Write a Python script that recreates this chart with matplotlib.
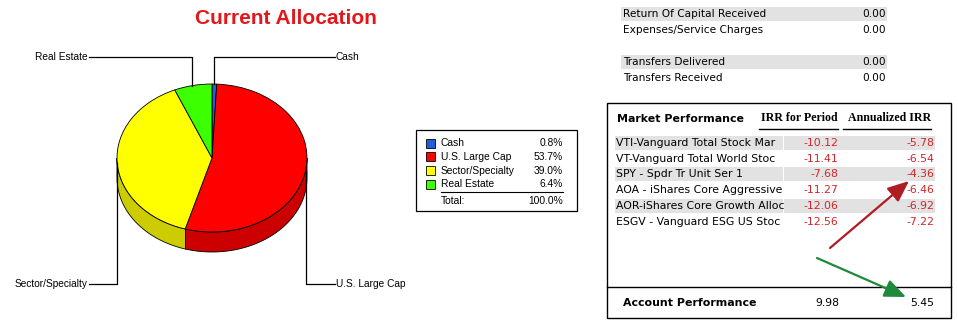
import numpy as np
import matplotlib
matplotlib.use("Agg")
import matplotlib.pyplot as plt
from matplotlib.patches import Rectangle, Polygon

# allocation data
categories = ["Cash", "U.S. Large Cap", "Sector/Specialty", "Real Estate"]
alloc_pct = [0.8, 53.7, 39.0, 6.4]
total_pct = 100.0
top_colors = ["#1f5fd8", "#ff0000", "#ffff00", "#3cff00"]
side_colors = ["#1848a8", "#cc0000", "#cccc00", "#30cc00"]

# cash-flow rows
flow_labels = ["Return Of Capital Received", "Expenses/Service Charges", "",
               "Transfers Delivered", "Transfers Received"]
flow_values = ["0.00", "0.00", "", "0.00", "0.00"]

# market performance table
fund_names = ["VTI-Vanguard Total Stock Mar", "VT-Vanguard Total World Stoc",
              "SPY - Spdr Tr Unit Ser 1", "AOA - iShares Core Aggressive",
              "AOR-iShares Core Growth Alloc", "ESGV - Vanguard ESG US Stoc"]
irr_period = [-10.12, -11.41, -7.68, -11.27, -12.06, -12.56]
irr_annual = [-5.78, -6.54, -4.36, -6.46, -6.92, -7.22]
account_irr_period = 9.98
account_irr_annual = 5.45

W, H = 958, 327
fig = plt.figure(figsize=(W / 100, H / 100), dpi=100)

# overlay axes in pixel coordinates
ax = fig.add_axes([0, 0, 1, 1])
ax.set_xlim(0, W)
ax.set_ylim(H, 0)
ax.axis("off")

# ---- 3D-looking pie ----
cx, cy, rx, ry, depth = 212, 158, 95, 74, 20
d = depth / ry
pax = fig.add_axes([(cx - 1.1 * rx) / W, 1 - (cy + 1.1 * ry + depth) / H,
                    2.2 * rx / W, (2.2 * ry + depth) / H])
pax.set_zorder(0)
ax.set_zorder(1)

edges = np.concatenate([[0], np.cumsum(alloc_pct)]) / 100 * 360  # clockwise from top
for i in range(len(alloc_pct)):
    lo, hi = max(edges[i], 90), min(edges[i + 1], 270)
    if hi <= lo:
        continue
    t = np.radians(np.linspace(lo, hi, 80))
    upper = np.column_stack([np.sin(t), np.cos(t)])
    lower = np.column_stack([np.sin(t), np.cos(t) - d])[::-1]
    pax.add_patch(Polygon(np.vstack([upper, lower]), closed=True,
                          facecolor=side_colors[i], edgecolor="black",
                          linewidth=0.6, zorder=0.5))

pax.pie(alloc_pct, colors=top_colors, startangle=90, counterclock=False,
        wedgeprops=dict(edgecolor="black", linewidth=0.6))
pax.set_aspect("auto")
pax.set_xlim(-1.1, 1.1)
pax.set_ylim(-(1.1 + d), 1.1)
pax.axis("off")

ax.text(286, 19, "Current Allocation", color="#e5161b", fontsize=15,
        fontweight="bold", family="Liberation Sans", ha="center", va="center")

# leader lines from slice middles
label_y = [57, 284, 284, 57]
for i, name in enumerate(categories):
    mid = np.radians((edges[i] + edges[i + 1]) / 2)
    px, py = cx + rx * np.sin(mid), cy - ry * np.cos(mid)
    right = np.sin(mid) > 0
    ex = 335 if right else 89
    ax.plot([px, px, ex], [py, label_y[i], label_y[i]], color="black", lw=0.9)
    ax.text(ex + (1 if right else -1), label_y[i], name, fontsize=7.3,
            family="Liberation Sans", ha="left" if right else "right", va="center")

# ---- legend box ----
ax.add_patch(Rectangle((416, 130), 161, 81, facecolor="white",
                       edgecolor="black", lw=0.9))
for i, name in enumerate(categories):
    y = 143 + i * 13.8
    ax.add_patch(Rectangle((426, y - 4.5), 9, 9, facecolor=top_colors[i],
                           edgecolor="black", lw=0.6))
    ax.text(441, y, name, fontsize=7.4, family="Liberation Sans", va="center")
    ax.text(563, y, f"{alloc_pct[i]:.1f}%", fontsize=7.4,
            family="Liberation Sans", va="center", ha="right")
ax.plot([441, 563], [192, 192], color="black", lw=0.8)
ax.text(441, 201, "Total:", fontsize=7.4, family="Liberation Sans", va="center")
ax.text(563, 201, f"{total_pct:.1f}%", fontsize=7.4,
        family="Liberation Sans", va="center", ha="right")

# ---- cash flow rows ----
gray = "#e2e2e2"
for i, (lab, val) in enumerate(zip(flow_labels, flow_values)):
    if not lab:
        continue
    y = 14.3 + i * 15.9
    if i in (0, 3):
        ax.add_patch(Rectangle((621, y - 7), 266, 14, facecolor=gray,
                               edgecolor="none"))
    ax.text(623, y, lab, fontsize=7.6, va="center")
    ax.text(886, y, val, fontsize=7.6, va="center", ha="right")

# ---- market performance box ----
ax.add_patch(Rectangle((607, 103), 344, 215, facecolor="white",
                       edgecolor="black", lw=1.0))
ax.plot([607, 951], [287, 287], color="black", lw=1.0)
ax.text(617, 118.5, "Market Performance", fontsize=7.9, fontweight="bold",
        va="center")
ax.text(838, 118, "IRR for Period", fontsize=8.6, fontweight="bold",
        family="Liberation Serif", va="center", ha="right")
ax.text(931, 118, "Annualized IRR", fontsize=8.6, fontweight="bold",
        family="Liberation Serif", va="center", ha="right")
ax.plot([759, 838], [128.5, 128.5], color="black", lw=1.0)
ax.plot([843, 931], [128.5, 128.5], color="black", lw=1.0)

red_txt = "#d3252b"
for i, name in enumerate(fund_names):
    y = 142.7 + i * 15.8
    if i % 2 == 0:
        ax.add_patch(Rectangle((615, y - 7), 168, 14, facecolor=gray,
                               edgecolor="none"))
        ax.add_patch(Rectangle((784, y - 7), 151, 14, facecolor=gray,
                               edgecolor="none"))
    t = ax.text(616, y, name, fontsize=7.8, va="center")
    t.set_clip_path(Rectangle((615, y - 8), 167, 16, transform=ax.transData))
    ax.text(838, y, f"{irr_period[i]:.2f}", fontsize=7.8, va="center",
            ha="right", color=red_txt)
    ax.text(934, y, f"{irr_annual[i]:.2f}", fontsize=7.8, va="center",
            ha="right", color=red_txt)

ax.text(623, 302.5, "Account Performance", fontsize=7.9, fontweight="bold",
        va="center")
ax.text(839, 302.5, f"{account_irr_period:.2f}", fontsize=7.8, va="center",
        ha="right")
ax.text(934, 302.5, f"{account_irr_annual:.2f}", fontsize=7.8, va="center",
        ha="right")

# arrows
ax.annotate("", xy=(909, 181), xytext=(830, 248),
            arrowprops=dict(arrowstyle="-|>,head_length=1.3,head_width=0.55",
                            color="#b01c24", lw=1.6, shrinkA=0, shrinkB=0))
ax.annotate("", xy=(906, 297), xytext=(817, 258),
            arrowprops=dict(arrowstyle="-|>,head_length=1.3,head_width=0.55",
                            color="#1f8a3c", lw=1.6, shrinkA=0, shrinkB=0))

fig.savefig("out.png", dpi=100)
